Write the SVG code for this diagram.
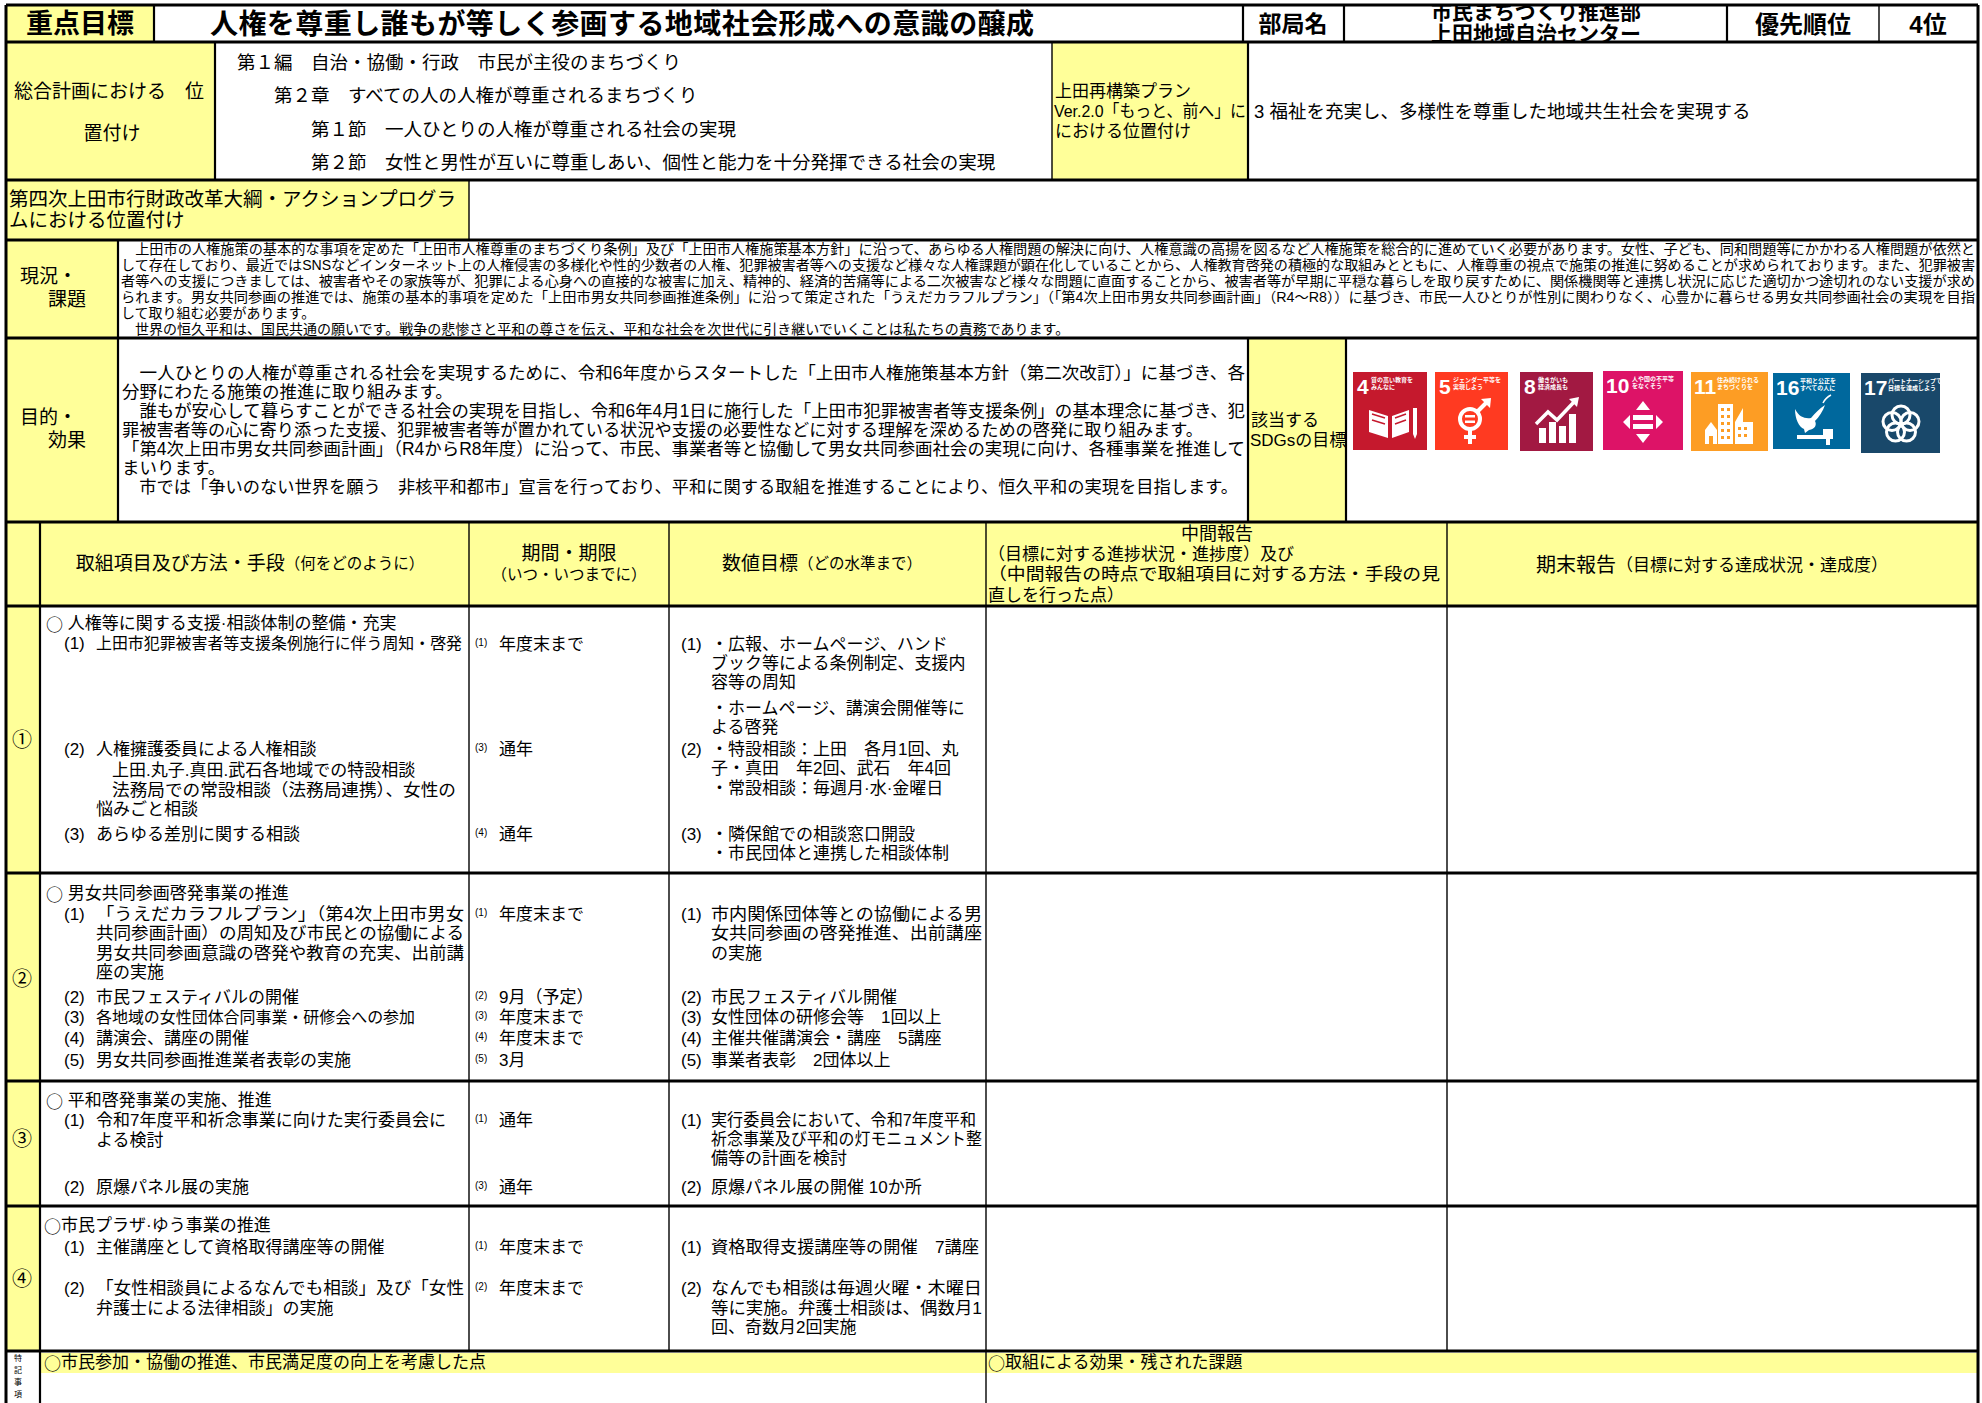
<svg xmlns="http://www.w3.org/2000/svg" width="1982" height="1403" viewBox="0 0 1982 1403">
<style>
text{font-family:"Liberation Sans","Noto Sans CJK JP",sans-serif;fill:#000;dominant-baseline:central}
.c{font-family:"Noto Sans CJK JP",sans-serif}
.b{font-weight:bold}
.y{fill:#FFFF99}
.L{stroke:#000;stroke-width:3;fill:none}
.M{stroke:#000;stroke-width:2.2;fill:none}
.S{stroke:#000;stroke-width:1.4;fill:none}
.f{font-size:17px}
.n{font-size:10px}
.w{fill:#fff}
.ws{stroke:#fff;fill:none}
.it{font-size:6px;font-weight:bold;fill:#fff}
.num{font-size:21px;font-weight:bold;fill:#fff}
</style>
<defs>
<clipPath id="deptClip"><rect x="1345" y="6" width="381" height="35"/></clipPath>
</defs>
<rect x="0" y="0" width="1982" height="1403" fill="#fff"/>

<g id="fills">
<rect class="y" x="6" y="5" width="148" height="37"/>
<rect class="y" x="6" y="42" width="209" height="138"/>
<rect class="y" x="1052" y="42" width="196" height="138"/>
<rect class="y" x="6" y="180" width="463" height="60"/>
<rect class="y" x="6" y="240" width="112" height="98"/>
<rect class="y" x="6" y="338" width="112" height="184"/>
<rect class="y" x="1248" y="338" width="98" height="184"/>
<rect class="y" x="6" y="522" width="1972" height="84"/>
<rect class="y" x="6" y="606" width="34" height="745"/>
<rect class="y" x="40" y="1353" width="1938" height="20"/>
</g>

<g id="grid">
<line class="L" x1="6" y1="5" x2="1978" y2="5"/>
<line class="L" x1="6" y1="42" x2="1978" y2="42"/>
<line class="L" x1="6" y1="180" x2="1978" y2="180"/>
<line class="L" x1="6" y1="240" x2="1978" y2="240"/>
<line class="L" x1="6" y1="338" x2="1978" y2="338"/>
<line class="L" x1="6" y1="522" x2="1978" y2="522"/>
<line class="L" x1="6" y1="606" x2="1978" y2="606"/>
<line class="L" x1="6" y1="873" x2="1978" y2="873"/>
<line class="L" x1="6" y1="1081" x2="1978" y2="1081"/>
<line class="L" x1="6" y1="1206" x2="1978" y2="1206"/>
<line class="L" x1="6" y1="1351" x2="1978" y2="1351"/>
<line class="L" x1="6" y1="5" x2="6" y2="1403"/>
<line class="L" x1="1978" y1="5" x2="1978" y2="1403"/>
<line class="M" x1="154" y1="5" x2="154" y2="42"/>
<line class="M" x1="1243" y1="5" x2="1243" y2="42"/>
<line class="M" x1="1344" y1="5" x2="1344" y2="42"/>
<line class="M" x1="1727" y1="5" x2="1727" y2="42"/>
<line class="S" x1="1879" y1="5" x2="1879" y2="42"/>
<line class="M" x1="215" y1="42" x2="215" y2="180"/>
<line class="S" x1="1052" y1="42" x2="1052" y2="180"/>
<line class="M" x1="1248" y1="42" x2="1248" y2="180"/>
<line class="S" x1="469" y1="180" x2="469" y2="240"/>
<line class="M" x1="118" y1="240" x2="118" y2="522"/>
<line class="M" x1="1248" y1="338" x2="1248" y2="522"/>
<line class="M" x1="1346" y1="338" x2="1346" y2="522"/>
<line class="M" x1="40" y1="522" x2="40" y2="1403"/>
<line class="S" x1="469" y1="522" x2="469" y2="1351"/>
<line class="S" x1="669" y1="522" x2="669" y2="1351"/>
<line class="S" x1="986" y1="522" x2="986" y2="1403"/>
<line class="S" x1="1447" y1="522" x2="1447" y2="1351"/>
</g>

<g id="title-row">
<text class="b" x="80" y="24" font-size="27" text-anchor="middle">重点目標</text>
<text class="b" x="210" y="24" font-size="28" textLength="824">人権を尊重し誰もが等しく参画する地域社会形成への意識の醸成</text>
<text class="b" x="1293" y="24" font-size="23" text-anchor="middle">部局名</text>
<g clip-path="url(#deptClip)">
<text class="b" x="1536" y="11" font-size="21" text-anchor="middle">市民まちづくり推進部</text>
<text class="b" x="1536" y="33" font-size="21" text-anchor="middle">上田地域自治センター</text>
</g>
<text class="b" x="1803" y="24" font-size="24" text-anchor="middle">優先順位</text>
<text class="b" x="1928" y="24" font-size="24" text-anchor="middle">4位</text>
</g>

<g id="plan-row" font-size="18.5">
<text x="14" y="91" font-size="19">総合計画における　位</text>
<text x="112" y="133" font-size="19" text-anchor="middle">置付け</text>
<text x="237" y="62">第１編　自治・協働・行政　市民が主役のまちづくり</text>
<text x="274" y="95">第２章　すべての人の人権が尊重されるまちづくり</text>
<text x="311" y="129">第１節　一人ひとりの人権が尊重される社会の実現</text>
<text x="311" y="162">第２節　女性と男性が互いに尊重しあい、個性と能力を十分発揮できる社会の実現</text>
<text x="1055" y="91" font-size="17">上田再構築プラン</text>
<text x="1054" y="111" font-size="17" textLength="192" lengthAdjust="spacingAndGlyphs">Ver.2.0「もっと、前へ」に</text>
<text x="1055" y="131" font-size="17">における位置付け</text>
<text x="1254" y="111">3  福祉を充実し、多様性を尊重した地域共生社会を実現する</text>
</g>

<g id="action-row">
<text x="9" y="199" font-size="19.5">第四次上田市行財政改革大綱・アクションプログラ</text>
<text x="9" y="220" font-size="19.5">ムにおける位置付け</text>
</g>

<g id="status-row" font-size="14">
<text x="20" y="276" font-size="19">現況・</text>
<text x="48" y="299" font-size="19">課題</text>
<text x="121" y="249" textLength="1854" lengthAdjust="spacingAndGlyphs">　上田市の人権施策の基本的な事項を定めた「上田市人権尊重のまちづくり条例」及び「上田市人権施策基本方針」に沿って、あらゆる人権問題の解決に向け、人権意識の高揚を図るなど人権施策を総合的に進めていく必要があります。女性、子ども、同和問題等にかかわる人権問題が依然と</text>
<text x="121" y="265" textLength="1854" lengthAdjust="spacingAndGlyphs">して存在しており、最近ではSNSなどインターネット上の人権侵害の多様化や性的少数者の人権、犯罪被害者等への支援など様々な人権課題が顕在化していることから、人権教育啓発の積極的な取組みとともに、人権尊重の視点で施策の推進に努めることが求められております。また、犯罪被害</text>
<text x="121" y="281" textLength="1854" lengthAdjust="spacingAndGlyphs">者等への支援につきましては、被害者やその家族等が、犯罪による心身への直接的な被害に加え、精神的、経済的苦痛等による二次被害など様々な問題に直面することから、被害者等が早期に平穏な暮らしを取り戻すために、関係機関等と連携し状況に応じた適切かつ途切れのない支援が求め</text>
<text x="121" y="297" textLength="1854" lengthAdjust="spacingAndGlyphs">られます。男女共同参画の推進では、施策の基本的事項を定めた「上田市男女共同参画推進条例」に沿って策定された「うえだカラフルプラン」（「第4次上田市男女共同参画計画」（R4～R8））に基づき、市民一人ひとりが性別に関わりなく、心豊かに暮らせる男女共同参画社会の実現を目指</text>
<text x="121" y="313">して取り組む必要があります。</text>
<text x="121" y="329">　世界の恒久平和は、国民共通の願いです。戦争の悲惨さと平和の尊さを伝え、平和な社会を次世代に引き継いでいくことは私たちの責務であります。</text>
</g>

<g id="purpose-row" font-size="17.5">
<text x="20" y="417" font-size="19">目的・</text>
<text x="48" y="440" font-size="19">効果</text>
<text x="122" y="373" textLength="1123" lengthAdjust="spacingAndGlyphs">　一人ひとりの人権が尊重される社会を実現するために、令和6年度からスタートした「上田市人権施策基本方針（第二次改訂）」に基づき、各</text>
<text x="122" y="392">分野にわたる施策の推進に取り組みます。</text>
<text x="122" y="411" textLength="1123" lengthAdjust="spacingAndGlyphs">　誰もが安心して暮らすことができる社会の実現を目指し、令和6年4月1日に施行した「上田市犯罪被害者等支援条例」の基本理念に基づき、犯</text>
<text x="122" y="430" textLength="1081" lengthAdjust="spacingAndGlyphs">罪被害者等の心に寄り添った支援、犯罪被害者等が置かれている状況や支援の必要性などに対する理解を深めるための啓発に取り組みます。</text>
<text x="122" y="449" textLength="1123" lengthAdjust="spacingAndGlyphs">「第4次上田市男女共同参画計画」（R4からR8年度）に沿って、市民、事業者等と協働して男女共同参画社会の実現に向け、各種事業を推進して</text>
<text x="122" y="468">まいります。</text>
<text x="122" y="487" textLength="1116" lengthAdjust="spacingAndGlyphs">　市では「争いのない世界を願う　非核平和都市」宣言を行っており、平和に関する取組を推進することにより、恒久平和の実現を目指します。</text>
<text x="1251" y="420" font-size="17">該当する</text>
<text x="1250" y="440" font-size="17">SDGsの目標</text>
</g>

<g id="sdgs">
<g id="sdg4" transform="translate(1353,372)">
<rect width="74" height="78" fill="#C5192D"/>
<text class="num" x="4" y="14">4</text>
<text class="it" x="18" y="8">質の高い教育を</text>
<text class="it" x="18" y="15">みんなに</text>
<path class="w" d="M16,38 L35,44 L35,66 L16,60 Z M39,44 L56,38 L56,60 L39,66 Z"/>
<path d="M19,42 L32,46 M19,48 L32,52 M42,46 L53,42 M42,52 L53,48" stroke="#C5192D" stroke-width="1.5"/>
<rect class="w" x="60" y="36" width="4" height="26"/>
<path class="w" d="M60,62 L64,62 L62,67 Z"/>
</g>
<g id="sdg5" transform="translate(1435,372)">
<rect width="73" height="78" fill="#FF3A21"/>
<text class="num" x="4" y="14">5</text>
<text class="it" x="18" y="8">ジェンダー平等を</text>
<text class="it" x="18" y="15">実現しよう</text>
<circle class="ws" cx="35" cy="47" r="10" stroke-width="4"/>
<rect class="w" x="30" y="43" width="10" height="2.5"/>
<rect class="w" x="30" y="48.5" width="10" height="2.5"/>
<path class="ws" d="M42,40 L52,30" stroke-width="4"/>
<path class="w" d="M46,27 L56,26 L55,36 Z"/>
<path class="ws" d="M35,57 L35,72 M29,65 L41,65" stroke-width="4"/>
</g>
<g id="sdg8" transform="translate(1520,372)">
<rect width="73" height="79" fill="#A21942"/>
<text class="num" x="4" y="14">8</text>
<text class="it" x="18" y="8">働きがいも</text>
<text class="it" x="18" y="15">経済成長も</text>
<rect class="w" x="19" y="56" width="7" height="15"/>
<rect class="w" x="29" y="50" width="7" height="21"/>
<rect class="w" x="39" y="54" width="7" height="17"/>
<rect class="w" x="49" y="42" width="7" height="29"/>
<path class="ws" d="M16,52 L28,40 L37,48 L54,30" stroke-width="3.5"/>
<path class="w" d="M49,27 L59,25 L57,35 Z"/>
</g>
<g id="sdg10" transform="translate(1603,371)">
<rect width="80" height="79" fill="#DD1367"/>
<text class="num" x="3" y="14">10</text>
<text class="it" x="29" y="8">人や国の不平等</text>
<text class="it" x="29" y="15">をなくそう</text>
<rect class="w" x="30" y="44" width="20" height="5"/>
<rect class="w" x="30" y="53" width="20" height="5"/>
<path class="w" d="M40,30 L33,39 L47,39 Z M40,72 L33,63 L47,63 Z M20,51 L27,44 L27,58 Z M60,51 L53,44 L53,58 Z"/>
</g>
<g id="sdg11" transform="translate(1691,372)">
<rect width="77" height="79" fill="#FD9D24"/>
<text class="num" x="3" y="14">11</text>
<text class="it" x="26" y="8">住み続けられる</text>
<text class="it" x="26" y="15">まちづくりを</text>
<rect class="w" x="27" y="32" width="15" height="40"/>
<path class="w" d="M14,58 L20,50 L26,58 L26,72 L14,72 Z"/>
<path class="w" d="M44,50 L52,36 L52,50 L62,50 L62,72 L44,72 Z"/>
<g fill="#FD9D24">
<rect x="30" y="36" width="3" height="3"/><rect x="36" y="36" width="3" height="3"/>
<rect x="30" y="43" width="3" height="3"/><rect x="36" y="43" width="3" height="3"/>
<rect x="30" y="50" width="3" height="3"/><rect x="36" y="50" width="3" height="3"/>
<rect x="30" y="57" width="3" height="3"/><rect x="36" y="57" width="3" height="3"/>
<rect x="30" y="64" width="3" height="3"/><rect x="36" y="64" width="3" height="3"/>
<rect x="47" y="55" width="3" height="3"/><rect x="53" y="55" width="3" height="3"/>
<rect x="47" y="62" width="3" height="3"/><rect x="53" y="62" width="3" height="3"/>
<rect x="18" y="64" width="4" height="8"/>
</g>
</g>
<g id="sdg16" transform="translate(1773,373)">
<rect width="77" height="76" fill="#00689D"/>
<text class="num" x="3" y="14">16</text>
<text class="it" x="27" y="8">平和と公正を</text>
<text class="it" x="27" y="15">すべての人に</text>
<path class="w" d="M22,36 C26,44 32,46 38,45 C42,40 46,36 52,32 C50,38 46,44 42,48 C44,52 42,56 36,57 L32,60 L31,56 C26,54 22,46 22,36 Z"/>
<path class="ws" d="M50,30 C52,26 54,24 58,22" stroke-width="1.5"/>
<rect class="w" x="24" y="62" width="30" height="4"/>
<rect class="w" x="50" y="56" width="10" height="10"/>
<rect class="w" x="53" y="66" width="4" height="6"/>
</g>
<g id="sdg17" transform="translate(1861,373)">
<rect width="79" height="80" fill="#19486A"/>
<text class="num" x="3" y="14">17</text>
<text class="it" x="27" y="8">パートナーシップで</text>
<text class="it" x="27" y="15">目標を達成しよう</text>
<g class="ws" stroke-width="3">
<circle cx="40" cy="42" r="9"/>
<circle cx="49" cy="48.5" r="9"/>
<circle cx="45.5" cy="59" r="9"/>
<circle cx="34.5" cy="59" r="9"/>
<circle cx="31" cy="48.5" r="9"/>
</g>
</g>
</g>

<g id="table-header">
<text x="250" y="563" text-anchor="middle"><tspan font-size="19">取組項目及び方法・手段</tspan><tspan font-size="15.5">（何をどのように）</tspan></text>
<text x="569" y="553" text-anchor="middle" font-size="19">期間・期限</text>
<text x="569" y="574" text-anchor="middle" font-size="15.5">（いつ・いつまでに）</text>
<text x="822" y="563" text-anchor="middle"><tspan font-size="19">数値目標</tspan><tspan font-size="15.5">（どの水準まで）</tspan></text>
<text x="1217" y="534" text-anchor="middle" font-size="18">中間報告</text>
<text x="988" y="554" font-size="17">（目標に対する進捗状況・進捗度）及び</text>
<text x="988" y="574" font-size="17" textLength="452" lengthAdjust="spacingAndGlyphs">（中間報告の時点で取組項目に対する方法・手段の見</text>
<text x="988" y="595" font-size="17">直しを行った点）</text>
<text x="1712" y="565" text-anchor="middle"><tspan font-size="20">期末報告</tspan><tspan font-size="17">（目標に対する達成状況・達成度）</tspan></text>
</g>

<g id="row1" class="f">
<text class="c" x="22" y="738" text-anchor="middle" font-size="20">①</text>
<text x="46" y="623"><tspan class="c">○</tspan> 人権等に関する支援·相談体制の整備・充実</text>
<text x="64" y="643">(1)</text><text x="96" y="643" font-size="16" textLength="366" lengthAdjust="spacingAndGlyphs">上田市犯罪被害者等支援条例施行に伴う周知・啓発</text>
<text x="64" y="749">(2)</text><text x="96" y="749">人権擁護委員による人権相談</text>
<text x="112" y="770">上田.丸子.真田.武石各地域での特設相談</text>
<text x="112" y="790" textLength="344" lengthAdjust="spacingAndGlyphs">法務局での常設相談（法務局連携）、女性の</text>
<text x="96" y="809">悩みごと相談</text>
<text x="64" y="834">(3)</text><text x="96" y="834">あらゆる差別に関する相談</text>
<text class="n" x="475" y="642">(1)</text><text x="499" y="644">年度末まで</text>
<text class="n" x="475" y="747">(3)</text><text x="499" y="749">通年</text>
<text class="n" x="475" y="832">(4)</text><text x="499" y="834">通年</text>
<text x="681" y="644">(1)</text><text x="711" y="644">・広報、ホームページ、ハンド</text>
<text x="711" y="663">ブック等による条例制定、支援内</text>
<text x="711" y="682">容等の周知</text>
<text x="711" y="708">・ホームページ、講演会開催等に</text>
<text x="711" y="727">よる啓発</text>
<text x="681" y="749">(2)</text><text x="711" y="749">・特設相談：上田　各月1回、丸</text>
<text x="711" y="768">子・真田　年2回、武石　年4回</text>
<text x="711" y="788">・常設相談：毎週月·水·金曜日</text>
<text x="681" y="834">(3)</text><text x="711" y="834">・隣保館での相談窓口開設</text>
<text x="711" y="853">・市民団体と連携した相談体制</text>
</g>

<g id="row2" class="f">
<text class="c" x="22" y="977" text-anchor="middle" font-size="20">②</text>
<text x="46" y="893"><tspan class="c">○</tspan> 男女共同参画啓発事業の推進</text>
<text x="64" y="914">(1)</text><text x="96" y="914" textLength="368" lengthAdjust="spacingAndGlyphs">「うえだカラフルプラン」（第4次上田市男女</text>
<text x="96" y="933" textLength="368" lengthAdjust="spacingAndGlyphs">共同参画計画）の周知及び市民との協働による</text>
<text x="96" y="953" textLength="368" lengthAdjust="spacingAndGlyphs">男女共同参画意識の啓発や教育の充実、出前講</text>
<text x="96" y="972">座の実施</text>
<text x="64" y="997">(2)</text><text x="96" y="997">市民フェスティバルの開催</text>
<text x="64" y="1017">(3)</text><text x="96" y="1017" font-size="16" textLength="319" lengthAdjust="spacingAndGlyphs">各地域の女性団体合同事業・研修会への参加</text>
<text x="64" y="1038">(4)</text><text x="96" y="1038">講演会、講座の開催</text>
<text x="64" y="1060">(5)</text><text x="96" y="1060">男女共同参画推進業者表彰の実施</text>
<text class="n" x="475" y="912">(1)</text><text x="499" y="914">年度末まで</text>
<text class="n" x="475" y="995">(2)</text><text x="499" y="997">9月（予定）</text>
<text class="n" x="475" y="1015">(3)</text><text x="499" y="1017">年度末まで</text>
<text class="n" x="475" y="1036">(4)</text><text x="499" y="1038">年度末まで</text>
<text class="n" x="475" y="1058">(5)</text><text x="499" y="1060">3月</text>
<text x="681" y="914">(1)</text><text x="711" y="914" textLength="271" lengthAdjust="spacingAndGlyphs">市内関係団体等との協働による男</text>
<text x="711" y="933" textLength="271" lengthAdjust="spacingAndGlyphs">女共同参画の啓発推進、出前講座</text>
<text x="711" y="953">の実施</text>
<text x="681" y="997">(2)</text><text x="711" y="997">市民フェスティバル開催</text>
<text x="681" y="1017">(3)</text><text x="711" y="1017">女性団体の研修会等　1回以上</text>
<text x="681" y="1038">(4)</text><text x="711" y="1038">主催共催講演会・講座　5講座</text>
<text x="681" y="1060">(5)</text><text x="711" y="1060">事業者表彰　2団体以上</text>
</g>

<g id="row3" class="f">
<text class="c" x="22" y="1137" text-anchor="middle" font-size="20">③</text>
<text x="46" y="1100"><tspan class="c">○</tspan> 平和啓発事業の実施、推進</text>
<text x="64" y="1120">(1)</text><text x="96" y="1120" textLength="350" lengthAdjust="spacingAndGlyphs">令和7年度平和祈念事業に向けた実行委員会に</text>
<text x="96" y="1140">よる検討</text>
<text x="64" y="1187">(2)</text><text x="96" y="1187">原爆パネル展の実施</text>
<text class="n" x="475" y="1118">(1)</text><text x="499" y="1120">通年</text>
<text class="n" x="475" y="1185">(3)</text><text x="499" y="1187">通年</text>
<text x="681" y="1120">(1)</text><text x="711" y="1120" textLength="265" lengthAdjust="spacingAndGlyphs">実行委員会において、令和7年度平和</text>
<text x="711" y="1139" textLength="271" lengthAdjust="spacingAndGlyphs">祈念事業及び平和の灯モニュメント整</text>
<text x="711" y="1158">備等の計画を検討</text>
<text x="681" y="1187">(2)</text><text x="711" y="1187">原爆パネル展の開催 10か所</text>
</g>

<g id="row4" class="f">
<text class="c" x="22" y="1277" text-anchor="middle" font-size="20">④</text>
<text x="44" y="1225"><tspan class="c">○</tspan>市民プラザ·ゆう事業の推進</text>
<text x="64" y="1247">(1)</text><text x="96" y="1247">主催講座として資格取得講座等の開催</text>
<text x="64" y="1288">(2)</text><text x="96" y="1288" textLength="368" lengthAdjust="spacingAndGlyphs">「女性相談員によるなんでも相談」及び「女性</text>
<text x="96" y="1308">弁護士による法律相談」の実施</text>
<text class="n" x="475" y="1245">(1)</text><text x="499" y="1247">年度末まで</text>
<text class="n" x="475" y="1286">(2)</text><text x="499" y="1288">年度末まで</text>
<text x="681" y="1247">(1)</text><text x="711" y="1247" textLength="268" lengthAdjust="spacingAndGlyphs">資格取得支援講座等の開催　7講座</text>
<text x="681" y="1288">(2)</text><text x="711" y="1288" textLength="271" lengthAdjust="spacingAndGlyphs">なんでも相談は毎週火曜・木曜日</text>
<text x="711" y="1308" textLength="271" lengthAdjust="spacingAndGlyphs">等に実施。弁護士相談は、偶数月1</text>
<text x="711" y="1327">回、奇数月2回実施</text>
</g>

<g id="notes-row" class="f">
<text x="18" y="1358" text-anchor="middle" font-size="8">特</text>
<text x="18" y="1370" text-anchor="middle" font-size="8">記</text>
<text x="18" y="1382" text-anchor="middle" font-size="8">事</text>
<text x="18" y="1394" text-anchor="middle" font-size="8">項</text>
<text x="44" y="1362"><tspan class="c">○</tspan>市民参加・協働の推進、市民満足度の向上を考慮した点</text>
<text x="988" y="1362"><tspan class="c">○</tspan>取組による効果・残された課題</text>
</g>
</svg>
